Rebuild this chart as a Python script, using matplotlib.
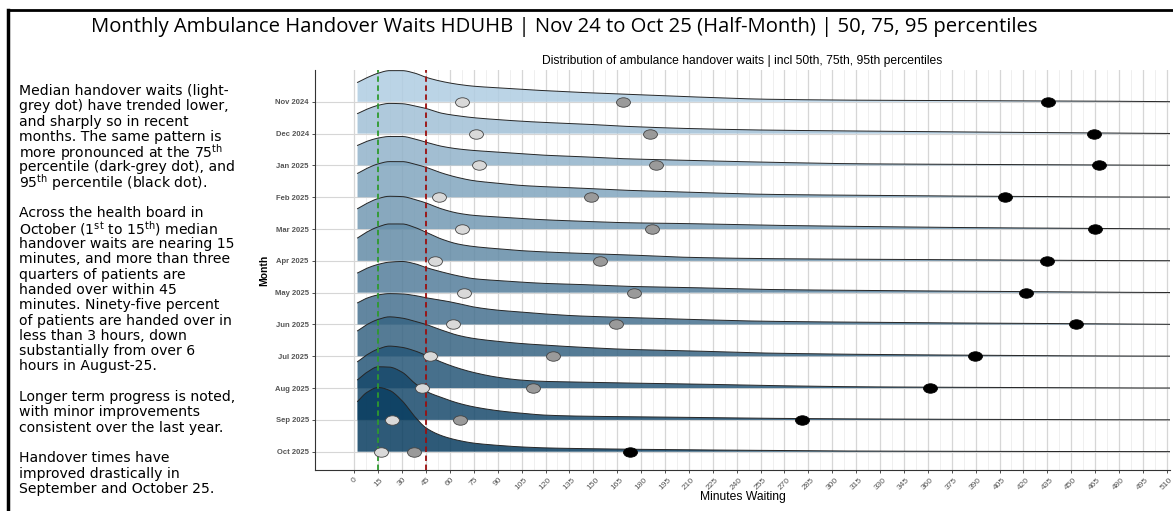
"""
plot.py

Ridgeline view of ambulance handover waits (HDUHB), Nov 24 to Oct 25,
with the 50th / 75th / 95th percentile dots on each month's baseline.
Saves out.png (1173x511).
"""
import numpy as np
import matplotlib
matplotlib.use('Agg')  # headless
import matplotlib.pyplot as plt
from matplotlib.lines import Line2D
from matplotlib.path import Path
from matplotlib.transforms import Affine2D
from matplotlib.colors import to_rgb

W, H = 1173, 511

# --- data ---
months = ['Nov 2024', 'Dec 2024', 'Jan 2025', 'Feb 2025', 'Mar 2025', 'Apr 2025',
          'May 2025', 'Jun 2025', 'Jul 2025', 'Aug 2025', 'Sep 2025', 'Oct 2025']

# percentiles (minutes)
p50 = [67.6, 76.4, 78.4, 53.3, 67.6, 50.6, 69.0, 61.7, 47.7, 42.5, 23.5, 16.8]
p75 = [168.8, 185.5, 189.5, 148.3, 187.0, 154.3, 175.3, 164.2, 124.4, 111.9, 66.3, 37.4]
p95 = [435.4, 464.2, 467.4, 408.2, 465.1, 434.8, 421.8, 453.2, 389.6, 361.2, 281.3, 173.2]

# ridge heights (in row units) sampled at ridge_x minutes
ridge_x = [2, 8, 15, 22, 30, 38, 45, 55, 65, 75, 90, 105, 120, 140, 170, 210, 260, 320, 400, 470, 512]
nov24 = [0.61, 0.76, 0.90, 0.98, 0.98, 0.90, 0.77, 0.64, 0.55, 0.49, 0.44, 0.39, 0.35, 0.30, 0.24, 0.16, 0.08, 0.05, 0.035, 0.02, 0.005]
dec24 = [0.63, 0.77, 0.89, 0.95, 0.94, 0.87, 0.79, 0.64, 0.56, 0.50, 0.44, 0.39, 0.35, 0.31, 0.23, 0.16, 0.11, 0.08, 0.045, 0.02, 0.005]
jan25 = [0.63, 0.76, 0.86, 0.91, 0.91, 0.83, 0.73, 0.60, 0.52, 0.47, 0.42, 0.37, 0.32, 0.28, 0.21, 0.16, 0.10, 0.05, 0.03, 0.015, 0.005]
feb25 = [0.75, 0.91, 1.05, 1.12, 1.12, 1.04, 0.94, 0.76, 0.62, 0.52, 0.44, 0.37, 0.33, 0.29, 0.22, 0.16, 0.09, 0.06, 0.03, 0.01, 0.005]
mar25 = [0.64, 0.81, 0.96, 1.03, 1.02, 0.93, 0.82, 0.63, 0.50, 0.43, 0.38, 0.33, 0.29, 0.25, 0.20, 0.17, 0.12, 0.08, 0.04, 0.02, 0.005]
apr25 = [0.72, 0.91, 1.07, 1.16, 1.16, 1.05, 0.90, 0.68, 0.53, 0.45, 0.38, 0.32, 0.28, 0.24, 0.19, 0.11, 0.07, 0.05, 0.03, 0.01, 0.005]
may25 = [0.62, 0.77, 0.89, 0.96, 0.98, 0.91, 0.79, 0.65, 0.53, 0.44, 0.38, 0.33, 0.29, 0.26, 0.20, 0.16, 0.10, 0.07, 0.04, 0.015, 0.005]
jun25 = [0.68, 0.83, 0.93, 0.97, 0.96, 0.91, 0.84, 0.76, 0.66, 0.55, 0.45, 0.39, 0.33, 0.27, 0.22, 0.16, 0.10, 0.07, 0.04, 0.02, 0.005]
jul25 = [0.80, 1.00, 1.16, 1.24, 1.20, 1.10, 1.00, 0.82, 0.66, 0.56, 0.47, 0.40, 0.35, 0.29, 0.22, 0.17, 0.10, 0.06, 0.03, 0.01, 0.005]
aug25 = [0.83, 1.05, 1.23, 1.32, 1.28, 1.17, 1.03, 0.81, 0.63, 0.49, 0.34, 0.25, 0.21, 0.19, 0.16, 0.13, 0.08, 0.04, 0.02, 0.005, 0.003]
sep25 = [1.26, 1.50, 1.67, 1.66, 1.50, 1.15, 0.90, 0.70, 0.53, 0.41, 0.29, 0.21, 0.15, 0.12, 0.10, 0.08, 0.05, 0.03, 0.015, 0.005, 0.003]
oct25 = [1.58, 1.87, 2.02, 1.93, 1.60, 1.10, 0.75, 0.50, 0.36, 0.27, 0.20, 0.15, 0.12, 0.10, 0.08, 0.06, 0.04, 0.02, 0.01, 0.005, 0.003]
ridges = [nov24, dec24, jan25, feb25, mar25, apr25, may25, jun25, jul25, aug25, sep25, oct25]

x_ticks = list(range(0, 511, 15))

TITLE = 'Monthly Ambulance Handover Waits HDUHB | Nov 24 to Oct 25 (Half-Month) | 50, 75, 95 percentiles'
SUBTITLE = 'Distribution of ambulance handover waits | incl 50th, 75th, 95th percentiles'

TH = r'$^{\rm th}$'
ST = r'$^{\rm st}$'
NOTES = [
    'Median handover waits (light-',
    'grey dot) have trended lower,',
    'and sharply so in recent',
    'months. The same pattern is',
    'more pronounced at the 75' + TH,
    'percentile (dark-grey dot), and',
    '95' + TH + ' percentile (black dot).',
    '',
    'Across the health board in',
    'October (1' + ST + ' to 15' + TH + ') median',
    'handover waits are nearing 15',
    'minutes, and more than three',
    'quarters of patients are',
    'handed over within 45',
    'minutes. Ninety-five percent',
    'of patients are handed over in',
    'less than 3 hours, down',
    'substantially from over 6',
    'hours in August-25.',
    '',
    'Longer term progress is noted,',
    'with minor improvements',
    'consistent over the last year.',
    '',
    'Handover times have',
    'improved drastically in',
    'September and October 25.',
]

# styles
LIGHT = '#b0cde2'
DARK = '#093d60'
TITLE_FONT = 'Open Sans'
BODY_FONT = 'DejaVu Sans'
CHART_FONT = 'Liberation Sans'


def pchip(x, y, xn):
    # monotone cubic through the read points, only to draw a smooth outline
    x = np.asarray(x, float)
    y = np.asarray(y, float)
    h = np.diff(x)
    d = np.diff(y) / h
    m = np.zeros_like(y)
    for k in range(1, len(y) - 1):
        if d[k - 1] * d[k] > 0:
            w1 = 2 * h[k] + h[k - 1]
            w2 = h[k] + 2 * h[k - 1]
            m[k] = (w1 + w2) / (w1 / d[k - 1] + w2 / d[k])
    m[0] = d[0]
    m[-1] = d[-1]
    idx = np.clip(np.searchsorted(x, xn) - 1, 0, len(x) - 2)
    t = (xn - x[idx]) / h[idx]
    h00 = 2 * t**3 - 3 * t**2 + 1
    h10 = t**3 - 2 * t**2 + t
    h01 = -2 * t**3 + 3 * t**2
    h11 = t**3 - t**2
    return h00 * y[idx] + h10 * h[idx] * m[idx] + h01 * y[idx + 1] + h11 * h[idx] * m[idx + 1]


def ridge_colour(i, n):
    a = np.array(to_rgb(LIGHT))
    b = np.array(to_rgb(DARK))
    f = i / (n - 1)
    return tuple(a + (b - a) * f)


def fx(px):
    return px / W


def fy(py):
    return 1 - py / H


plt.rcParams['mathtext.fontset'] = 'custom'
plt.rcParams['mathtext.rm'] = BODY_FONT

fig = plt.figure(figsize=(W / 100, H / 100), dpi=100)
ax = fig.add_axes([fx(315), fy(470), fx(1170) - fx(315), fy(70) - fy(470)])

n = len(months)
ypos = [n - 1 - i for i in range(n)]  # Nov at the top

# grid
for xv in x_ticks:
    ax.axvline(xv, color='#d6d6d6', lw=0.9, zorder=0)
    ax.axvline(xv + 7.5, color='#ededed', lw=0.6, zorder=0)
for yv in ypos:
    ax.axhline(yv, color='#d6d6d6', lw=0.8, zorder=0)

# ridges, top row first so lower rows sit on top
xs = np.linspace(ridge_x[0], ridge_x[-1], 600)
for i, (base, hts) in enumerate(zip(ypos, ridges)):
    ys = np.clip(pchip(ridge_x, hts, xs), 0, None)
    z = 2 + i * 0.1
    ax.fill_between(xs, base, base + ys, facecolor=ridge_colour(i, n), alpha=0.85,
                    edgecolor='none', zorder=z)
    ax.plot(xs, base + ys, color='#262626', lw=0.7, zorder=z + 0.05)

# reference lines
ax.axvline(15, color='#2e9a2e', lw=1.3, ls=(0, (3, 2)), zorder=5)
ax.axvline(45, color='#9b0f0f', lw=1.3, ls=(0, (3, 2)), zorder=5)

# oval dot marker
oval = Path.unit_circle().transformed(Affine2D().scale(1.0, 0.68))
ax.plot(p50, ypos, ls='none', marker=oval, ms=10, mfc='#d9d9d9', mec='#444444', mew=0.6, zorder=6)
ax.plot(p75, ypos, ls='none', marker=oval, ms=10, mfc='#9a9a9a', mec='#444444', mew=0.6, zorder=6)
ax.plot(p95, ypos, ls='none', marker=oval, ms=10, mfc='black', mec='black', mew=0.6, zorder=6)

ax.set_xlim(-24.7, 512)
ax.set_ylim(-0.575, 12.0)
ax.set_xticks(x_ticks)
ax.set_xticklabels([str(v) for v in x_ticks], rotation=45, ha='center', va='top',
                   fontsize=6, color='#555555', family=CHART_FONT)
ax.set_yticks(ypos)
ax.set_yticklabels(months, fontsize=5.5, color='#555555', family=CHART_FONT, fontweight='bold')
ax.tick_params(axis='both', length=2.5, width=0.6, color='#333333', pad=2)
for s in ('top', 'right'):
    ax.spines[s].set_visible(False)
for s in ('left', 'bottom'):
    ax.spines[s].set_color('#333333')
    ax.spines[s].set_linewidth(0.8)

# texts
fig.text(fx(564), fy(27), TITLE, ha='center', va='center', fontsize=14.6, family=TITLE_FONT)
fig.text(fx(742), fy(61), SUBTITLE, ha='center', va='center', fontsize=8.7, family=CHART_FONT)
fig.text(fx(743), fy(497), 'Minutes Waiting', ha='center', va='center', fontsize=8.7, family=CHART_FONT)
fig.text(fx(264), fy(270), 'Month', ha='center', va='center', rotation=90, fontsize=7.5,
         family=CHART_FONT, fontweight='bold')

y0, dy = 91, 15.3
for k, line in enumerate(NOTES):
    if line:
        fig.text(fx(19), fy(y0 + k * dy), line, ha='left', va='center', fontsize=10.1, family=BODY_FONT)

# frame lines
fig.add_artist(Line2D([fx(8), 1], [fy(10), fy(10)], color='black', lw=2, transform=fig.transFigure))
fig.add_artist(Line2D([fx(8), fx(8)], [0, fy(10)], color='black', lw=2.5, transform=fig.transFigure))

fig.savefig('out.png', dpi=100)
